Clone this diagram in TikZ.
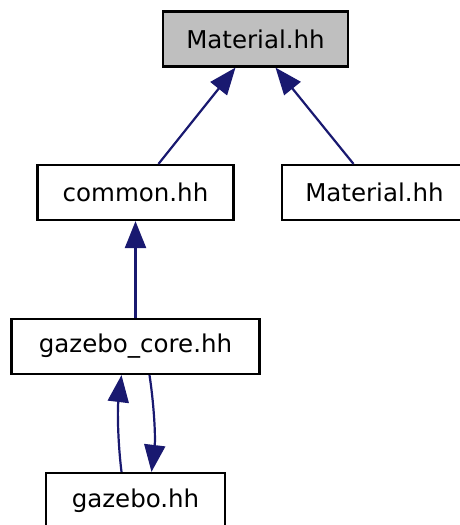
\documentclass[tikz,border=0pt]{standalone}
\usepackage{fontspec}
\setmainfont{DejaVu Sans}
\usetikzlibrary{arrows.meta}

\definecolor{edgeblue}{HTML}{191970}
\definecolor{rootgray}{HTML}{BFBFBF}

\tikzset{
  file/.style={draw=black, line width=2.2pt, inner sep=0pt, minimum height=55pt,
    font=\fontsize{24.5}{29}\selectfont},
  dep/.style={draw=edgeblue, line width=2.2pt, -{Triangle[length=27pt,width=21pt]}, edgeblue}
}

\begin{document}
\begin{tikzpicture}[x=1pt, y=-1pt]
\useasboundingbox (0,0) rectangle (460,525);

% Included file
\node[file, fill=rootgray, minimum width=185pt] (mat) at (255.5,39) {Material.hh};

% Direct includers
\node[file, minimum width=196pt] (common) at (135.5,192.5) {common.hh};
\node[file, minimum width=185pt] (matb) at (374.5,192.5) {Material.hh};

% Core headers
\node[file, minimum width=248pt] (core) at (135.5,346.5) {gazebo\_core.hh};
\node[file, minimum width=179pt] (gz) at (135.5,500.5) {gazebo.hh};

% Include edges
\draw[dep] ([xshift=23pt]common.north) -- ([xshift=-20pt]mat.south);
\draw[dep] ([xshift=-21pt]matb.north) -- ([xshift=20pt]mat.south);
\draw[dep] (core.north) -- (common.south);

% Cycle between gazebo.hh and gazebo_core.hh
\draw[dep] ([xshift=-14pt]gz.north) .. controls +(-4,-33) and +(-4,33) .. ([xshift=-14pt]core.south);
\draw[dep] ([xshift=14pt]core.south) .. controls +(5,33) and +(4,-33) .. ([xshift=16pt]gz.north);

\end{tikzpicture}
\end{document}
